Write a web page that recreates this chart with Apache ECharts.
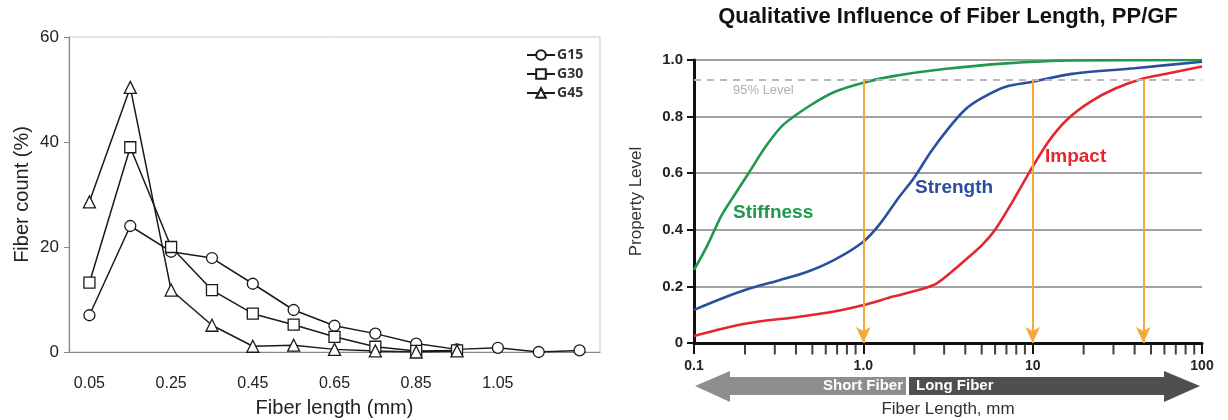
<!DOCTYPE html>
<html>
<head>
<meta charset="utf-8">
<script src="https://cdn.jsdelivr.net/npm/echarts@6/dist/echarts.min.js"></script>
<style>
html, body { margin: 0; padding: 0; background: #fff; }
#main { width: 1228px; height: 420px; }
</style>
</head>
<body>
<div id="main"></div>
<script>
// left: fiber length distribution
var sizeCats = ['0.05','0.15','0.25','0.35','0.45','0.55','0.65','0.75','0.85','0.95','1.05','1.15','1.25'];
var sizeLabels = ['0.05','0.25','0.45','0.65','0.85','1.05'];
var g15 = [7.0, 24.0, 19.1, 17.9, 13.0, 8.0, 5.0, 3.5, 1.6, 0.5, 0.8, 0.0, 0.3];
var g30 = [13.2, 39.0, 20.0, 11.8, 7.3, 5.2, 2.9, 1.0, 0.2, 0.3];
var g45 = [28.6, 50.4, 11.8, 5.1, 1.1, 1.3, 0.5, 0.2, 0.0, 0.2];

// right: property level vs fiber length (mm)
var stiffness = [[0.1,0.258],[0.12,0.345],[0.144,0.446],[0.17,0.515],[0.21,0.60],[0.265,0.694],[0.335,0.77],[0.49,0.841],[0.68,0.888],[1.0,0.92],[1.5,0.943],[3.0,0.968],[7.0,0.988],[17,0.998],[100,1.0]];
var strength = [[0.1,0.117],[0.15,0.16],[0.22,0.195],[0.32,0.222],[0.45,0.248],[0.67,0.293],[1.0,0.358],[1.25,0.42],[1.6,0.51],[2.0,0.585],[2.5,0.675],[3.2,0.76],[4.0,0.825],[5.0,0.865],[7.0,0.906],[10,0.923],[17,0.951],[40,0.971],[100,0.994]];
var impact = [[0.1,0.025],[0.2,0.068],[0.42,0.093],[0.67,0.111],[1.0,0.134],[1.5,0.164],[2.2,0.19],[2.7,0.21],[3.3,0.25],[4.0,0.293],[5.0,0.345],[6.0,0.40],[7.7,0.505],[10,0.623],[12.5,0.715],[16,0.79],[22,0.853],[31,0.90],[45,0.935],[66,0.955],[100,0.977]];
var level95 = 0.93;
var arrowX = [1.0, 10, 45];
var minorTicks = [0.2,0.3,0.4,0.5,0.6,0.7,0.8,0.9,2,3,4,5,6,7,8,9,20,30,40,50,60,70,80,90];

var myChart = echarts.init(document.getElementById('main'));

var hollow = function (name, data, symbol) {
    return {
        name: name,
        type: 'line',
        xAxisIndex: 0,
        yAxisIndex: 0,
        data: data,
        symbol: symbol,
        symbolSize: symbol == 'triangle' ? 12 : 11,
        showAllSymbol: true,
        lineStyle: { color: '#1a1a1a', width: 1.5 },
        itemStyle: { color: '#fff', borderColor: '#1a1a1a', borderWidth: 1.3 },
        emphasis: { disabled: true },
        z: 3
    };
};

var curve = function (data, color) {
    return {
        type: 'line',
        xAxisIndex: 1,
        yAxisIndex: 1,
        data: data,
        smooth: 0.3,
        showSymbol: false,
        lineStyle: { color: color, width: 2.6 },
        emphasis: { disabled: true },
        z: 4
    };
};

// orange arrows from 95% line down to axis
var arrowLines = arrowX.map(function (x) {
    return [{ coord: [x, level95] }, { coord: [x, 0] }];
});

var option = {
    animation: false,
    legend: {
        data: ['G15', 'G30', 'G45'],
        orient: 'vertical',
        left: 521,
        top: 43,
        itemWidth: 28,
        itemHeight: 12,
        itemGap: 5,
        textStyle: { fontFamily: 'Open Sans', fontWeight: 'bold', fontSize: 14, color: '#333', padding: [0, 0, 0, -3] }
    },
    grid: [
        { left: 69, right: 628, top: 37, bottom: 68, outerBoundsMode: 'none', show: true, borderColor: '#c8c8c8', borderWidth: 1 },
        { left: 694, right: 26, top: 60, bottom: 77, outerBoundsMode: 'none' }
    ],
    xAxis: [
        {
            type: 'category',
            gridIndex: 0,
            data: sizeCats,
            boundaryGap: true,
            axisLine: { lineStyle: { color: '#888', width: 1.2 } },
            axisTick: { interval: 0, length: 6, lineStyle: { color: '#888' } },
            axisLabel: {
                interval: 0,
                margin: 24,
                fontSize: 16,
                color: '#222',
                fontFamily: 'Liberation Sans',
                formatter: function (v) { return sizeLabels.indexOf(v) >= 0 ? v : ''; }
            },
            name: 'Fiber length (mm)',
            nameLocation: 'middle',
            nameGap: 46,
            nameTextStyle: { fontSize: 20, color: '#222', fontFamily: 'Liberation Sans' }
        },
        {
            type: 'log',
            gridIndex: 1,
            logBase: 10,
            min: 0.1,
            max: 100,
            axisLine: { lineStyle: { color: '#111', width: 3 } },
            axisTick: { length: 11, lineStyle: { color: '#111', width: 2 } },
            splitLine: { show: false },
            axisLabel: {
                margin: 16,
                fontSize: 14,
                fontWeight: 'bold',
                color: '#222',
                fontFamily: 'Liberation Sans',
                formatter: function (v) { return v == 1 ? '1.0' : String(v); }
            },
            name: 'Fiber Length, mm',
            nameLocation: 'middle',
            nameGap: 58,
            nameTextStyle: { fontSize: 17, color: '#333', fontFamily: 'Liberation Sans' }
        }
    ],
    yAxis: [
        {
            type: 'value',
            gridIndex: 0,
            min: 0,
            max: 60,
            interval: 20,
            axisLine: { show: true, lineStyle: { color: '#888', width: 1.2 } },
            axisTick: { show: true, length: 5, lineStyle: { color: '#888' } },
            splitLine: { show: false },
            axisLabel: { fontSize: 17, color: '#222', margin: 10, fontFamily: 'Liberation Sans' },
            name: 'Fiber count (%)',
            nameLocation: 'middle',
            nameGap: 37,
            nameRotate: 90,
            nameTextStyle: { fontSize: 20, color: '#222', fontFamily: 'Liberation Sans' }
        },
        {
            type: 'value',
            gridIndex: 1,
            min: 0,
            max: 1,
            interval: 0.2,
            axisLine: { show: true, lineStyle: { color: '#111', width: 3 } },
            axisTick: { show: true, length: 7, lineStyle: { color: '#111', width: 2 } },
            splitLine: { show: true, lineStyle: { color: '#a0a0a0', width: 2 } },
            axisLabel: {
                fontSize: 15,
                fontWeight: 'bold',
                color: '#222',
                margin: 11,
                fontFamily: 'Liberation Sans',
                formatter: function (v) { return v == 0 ? '0' : v.toFixed(1); }
            },
            name: 'Property Level',
            nameLocation: 'middle',
            nameGap: 49,
            nameRotate: 90,
            nameTextStyle: { fontSize: 17, color: '#333', fontFamily: 'Liberation Sans' }
        }
    ],
    series: [
        hollow('G15', g15, 'circle'),
        hollow('G30', g30, 'rect'),
        hollow('G45', g45, 'triangle'),
        curve(stiffness, '#1f9a4c'),
        curve(strength, '#2b4f9e'),
        curve(impact, '#e4262f'),
        {
            // minor log ticks under the axis
            type: 'scatter',
            xAxisIndex: 1,
            yAxisIndex: 1,
            data: minorTicks.map(function (x) { return [x, 0]; }),
            symbol: 'rect',
            symbolSize: [2, 11],
            symbolOffset: [0, 6],
            clip: false,
            silent: true,
            itemStyle: { color: '#111' },
            z: 5
        },
        {
            type: 'line',
            xAxisIndex: 1,
            yAxisIndex: 1,
            data: [],
            silent: true,
            markLine: {
                silent: true,
                symbol: 'none',
                label: { show: false },
                lineStyle: { color: '#b8b8b8', width: 2, type: [7, 6] },
                data: [[{ coord: [0.1, level95] }, { coord: [100, level95] }]]
            },
            z: 2
        },
        {
            type: 'line',
            xAxisIndex: 1,
            yAxisIndex: 1,
            data: [],
            silent: true,
            markLine: {
                silent: true,
                symbol: ['none', 'arrow'],
                symbolSize: [11, 16],
                label: { show: false },
                lineStyle: { color: '#f6a93b', width: 2, type: 'solid' },
                data: arrowLines
            },
            z: 3
        }
    ],
    graphic: [
        {
            type: 'text', x: 948, y: 6,
            style: { text: 'Qualitative Influence of Fiber Length, PP/GF', font: 'bold 22px "Liberation Sans"', fill: '#111', align: 'center' }
        },
        {
            type: 'text', x: 733, y: 84,
            style: { text: '95% Level', font: '13px "Liberation Sans"', fill: '#b0b0b0' }
        },
        {
            type: 'text', x: 733, y: 203,
            style: { text: 'Stiffness', font: 'bold 19px "Liberation Sans"', fill: '#1f9a4c' }
        },
        {
            type: 'text', x: 915, y: 178,
            style: { text: 'Strength', font: 'bold 19px "Liberation Sans"', fill: '#2b4f9e' }
        },
        {
            type: 'text', x: 1045, y: 147,
            style: { text: 'Impact', font: 'bold 19px "Liberation Sans"', fill: '#e4262f' }
        },
        {
            type: 'polygon',
            shape: { points: [[695, 386], [730, 371], [730, 377], [906, 377], [906, 395], [730, 395], [730, 402]] },
            style: { fill: '#8e8e8e' }
        },
        {
            type: 'polygon',
            shape: { points: [[909, 377], [1164, 377], [1164, 371], [1200, 386], [1164, 402], [1164, 395], [909, 395]] },
            style: { fill: '#4f4f4f' }
        },
        {
            type: 'text', x: 903, y: 386,
            style: { text: 'Short Fiber', font: 'bold 15px "Liberation Sans"', fill: '#fff', align: 'right', verticalAlign: 'middle' }
        },
        {
            type: 'text', x: 916, y: 386,
            style: { text: 'Long Fiber', font: 'bold 15px "Liberation Sans"', fill: '#fff', verticalAlign: 'middle' }
        }
    ]
};

myChart.setOption(option);
</script>
</body>
</html>
